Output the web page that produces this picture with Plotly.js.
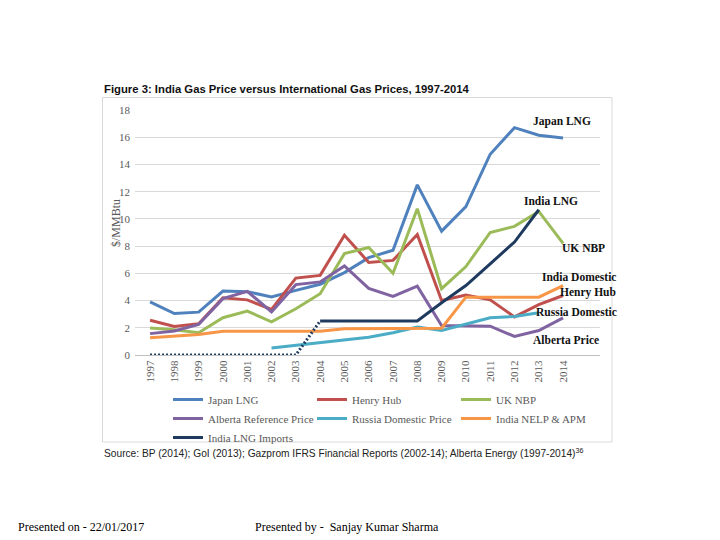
<!DOCTYPE html>
<html>
<head>
<meta charset="utf-8">
<script src="https://cdn.plot.ly/plotly-3.0.1.min.js"></script>
<style>html,body{margin:0;padding:0;background:#fff;} #chart{width:720px;height:540px;}</style>
</head>
<body>
<div id="chart"></div>
<script>
// ---- data ----
const years = [1997,1998,1999,2000,2001,2002,2003,2004,2005,2006,2007,2008,2009,2010,2011,2012,2013,2014];
const yearLabels = years.map(String);
const japanLNG = [3.9,3.05,3.15,4.7,4.65,4.27,4.75,5.2,6.05,7.15,7.7,12.5,9.1,10.9,14.75,16.7,16.15,15.95];
const henryHub = [2.55,2.1,2.3,4.2,4.05,3.35,5.65,5.85,8.8,6.8,6.95,8.85,4.0,4.4,4.05,2.8,3.7,4.37];
const ukNBP = [1.98,1.86,1.64,2.74,3.23,2.43,3.4,4.5,7.45,7.9,6.0,10.75,4.87,6.5,9.0,9.45,10.55,8.2];
const alberta = [1.57,1.76,2.25,4.14,4.68,3.16,5.17,5.37,6.54,4.9,4.3,5.06,2.17,2.17,2.12,1.36,1.8,2.73];
const russiaYears = [2002,2003,2004,2005,2006,2007,2008,2009,2010,2011,2012,2013];
const russiaDomestic = [0.51,0.71,0.9,1.1,1.31,1.63,2.05,1.8,2.29,2.73,2.83,3.1];
const indiaNELP = [1.27,1.4,1.5,1.74,1.74,1.74,1.74,1.74,1.93,1.95,1.95,1.97,1.97,4.25,4.25,4.25,4.25,5.1];
const lngPreYears = [1997,1998,1999,2000,2001,2002,2003,2004];
const lngPre = [0,0,0,0,0,0,0,2.5];
const lngYears = [2004,2005,2006,2007,2008,2009,2010,2011,2012,2013];
const lngImports = [2.5,2.5,2.5,2.5,2.5,3.84,5.1,6.7,8.3,10.67];
const seriesNames = ["Japan LNG","Henry Hub","UK NBP","Alberta Reference Price","Russia Domestic Price","India NELP & APM","India LNG Imports"];
const endLabels = ["Japan LNG","India LNG","UK NBP","India Domestic","Henry Hub","Russia Domestic","Alberta Price"];
const yTicks = [0,2,4,6,8,10,12,14,16,18];

// ---- styling ----
const colors = ["#4f81bd","#c0504d","#9bbb59","#8064a2","#4bacc6","#f79646","#1f3a5f"];
const L=135,R=600,T=110,B=355,W=720,H=540;
const px = x => (x-L)/(R-L);
const py = y => (B-y)/(B-T);
const serif = "Liberation Serif, DejaVu Serif, serif";
const sans = "Liberation Sans, Arial, sans-serif";
const gray = "#595959";

function line(x,y,i,extra){
  return Object.assign({type:"scatter",mode:"lines",x:x,y:y,name:seriesNames[i],
    line:{color:colors[i],width:3}},extra||{});
}
const traces = [
  line(years,japanLNG,0),
  line(years,henryHub,1),
  line(years,ukNBP,2),
  line(years,alberta,3),
  line(russiaYears,russiaDomestic,4),
  line(years,indiaNELP,5),
  line(lngYears,lngImports,6),
  line(lngPreYears,lngPre,6,{showlegend:false,line:{color:colors[6],width:3,dash:"2px,2px"},hoverinfo:"skip"})
];

// end-of-line labels (positions in data units)
const endPos = [
  [2012.68,17.17],[2012.31,11.29],[2013.87,7.83],[2013.05,5.70],[2013.79,4.60],[2012.80,3.13],[2012.68,1.07]
];
const annotations = endLabels.map((t,i)=>({x:endPos[i][0],y:endPos[i][1],xref:"x",yref:"y",text:"<b>"+t+"</b>",showarrow:false,
  xanchor:"left",yanchor:"middle",font:{family:serif,size:11.5,color:"#111"}}));
annotations.push(
  {xref:"paper",yref:"paper",x:px(116),y:py(223),text:"$/MMBtu",textangle:-90,showarrow:false,
   xanchor:"center",yanchor:"middle",font:{family:serif,size:12,color:gray}},
  {xref:"paper",yref:"paper",x:px(102),y:py(88.5),text:"<b>Figure 3: India Gas Price versus International Gas Prices, 1997-2014</b>",
   showarrow:false,xanchor:"left",yanchor:"middle",font:{family:sans,size:11.3,color:"#111"}},
  {xref:"paper",yref:"paper",x:px(102),y:py(453),text:"Source: BP (2014); GoI (2013); Gazprom IFRS Financial Reports (2002-14); Alberta Energy (1997-2014)<sup>36</sup>",
   showarrow:false,xanchor:"left",yanchor:"middle",font:{family:sans,size:10.2,color:"#222"}},
  {xref:"paper",yref:"paper",x:px(16),y:py(527),text:"Presented on - 22/01/2017",showarrow:false,xanchor:"left",yanchor:"middle",
   font:{family:serif,size:12,color:"#000"}},
  {xref:"paper",yref:"paper",x:px(253),y:py(527),text:"Presented by -  Sanjay Kumar Sharma",showarrow:false,xanchor:"left",yanchor:"middle",
   font:{family:serif,size:12,color:"#000"}}
);

const layout = {
  width:W,height:H,
  margin:{l:L,r:W-R,t:T,b:H-B,pad:0},
  paper_bgcolor:"#fff",plot_bgcolor:"#fff",
  showlegend:true,
  font:{family:serif,color:gray,size:11},
  xaxis:{range:[1996.38,2015.52],tickmode:"array",tickvals:years,ticktext:yearLabels,tickangle:-90,
    showgrid:false,zeroline:false,showline:true,linecolor:"#bfbfbf",linewidth:1,ticks:"",
    tickfont:{family:serif,size:11,color:gray},fixedrange:true},
  yaxis:{range:[0,18],tickmode:"array",tickvals:yTicks,showgrid:true,gridcolor:"#d9d9d9",gridwidth:1,
    zeroline:false,showline:false,ticks:"",ticklabelstandoff:4,
    tickfont:{family:serif,size:11,color:gray},fixedrange:true},
  legend:{orientation:"h",x:px(168),xanchor:"left",y:py(385),yanchor:"top",
    entrywidthmode:"pixels",entrywidth:99,itemwidth:30,traceorder:"normal",
    font:{family:serif,size:11,color:gray},bgcolor:"rgba(0,0,0,0)"},
  shapes:[{type:"rect",xref:"paper",yref:"paper",x0:px(102.5),x1:px(612),y0:py(442),y1:py(97.5),
    line:{color:"#d9d9d9",width:1},fillcolor:"rgba(0,0,0,0)",layer:"below"}],
  annotations:annotations
};
Plotly.newPlot("chart",traces,layout,{displayModeBar:false,staticPlot:true});
</script>
</body>
</html>
